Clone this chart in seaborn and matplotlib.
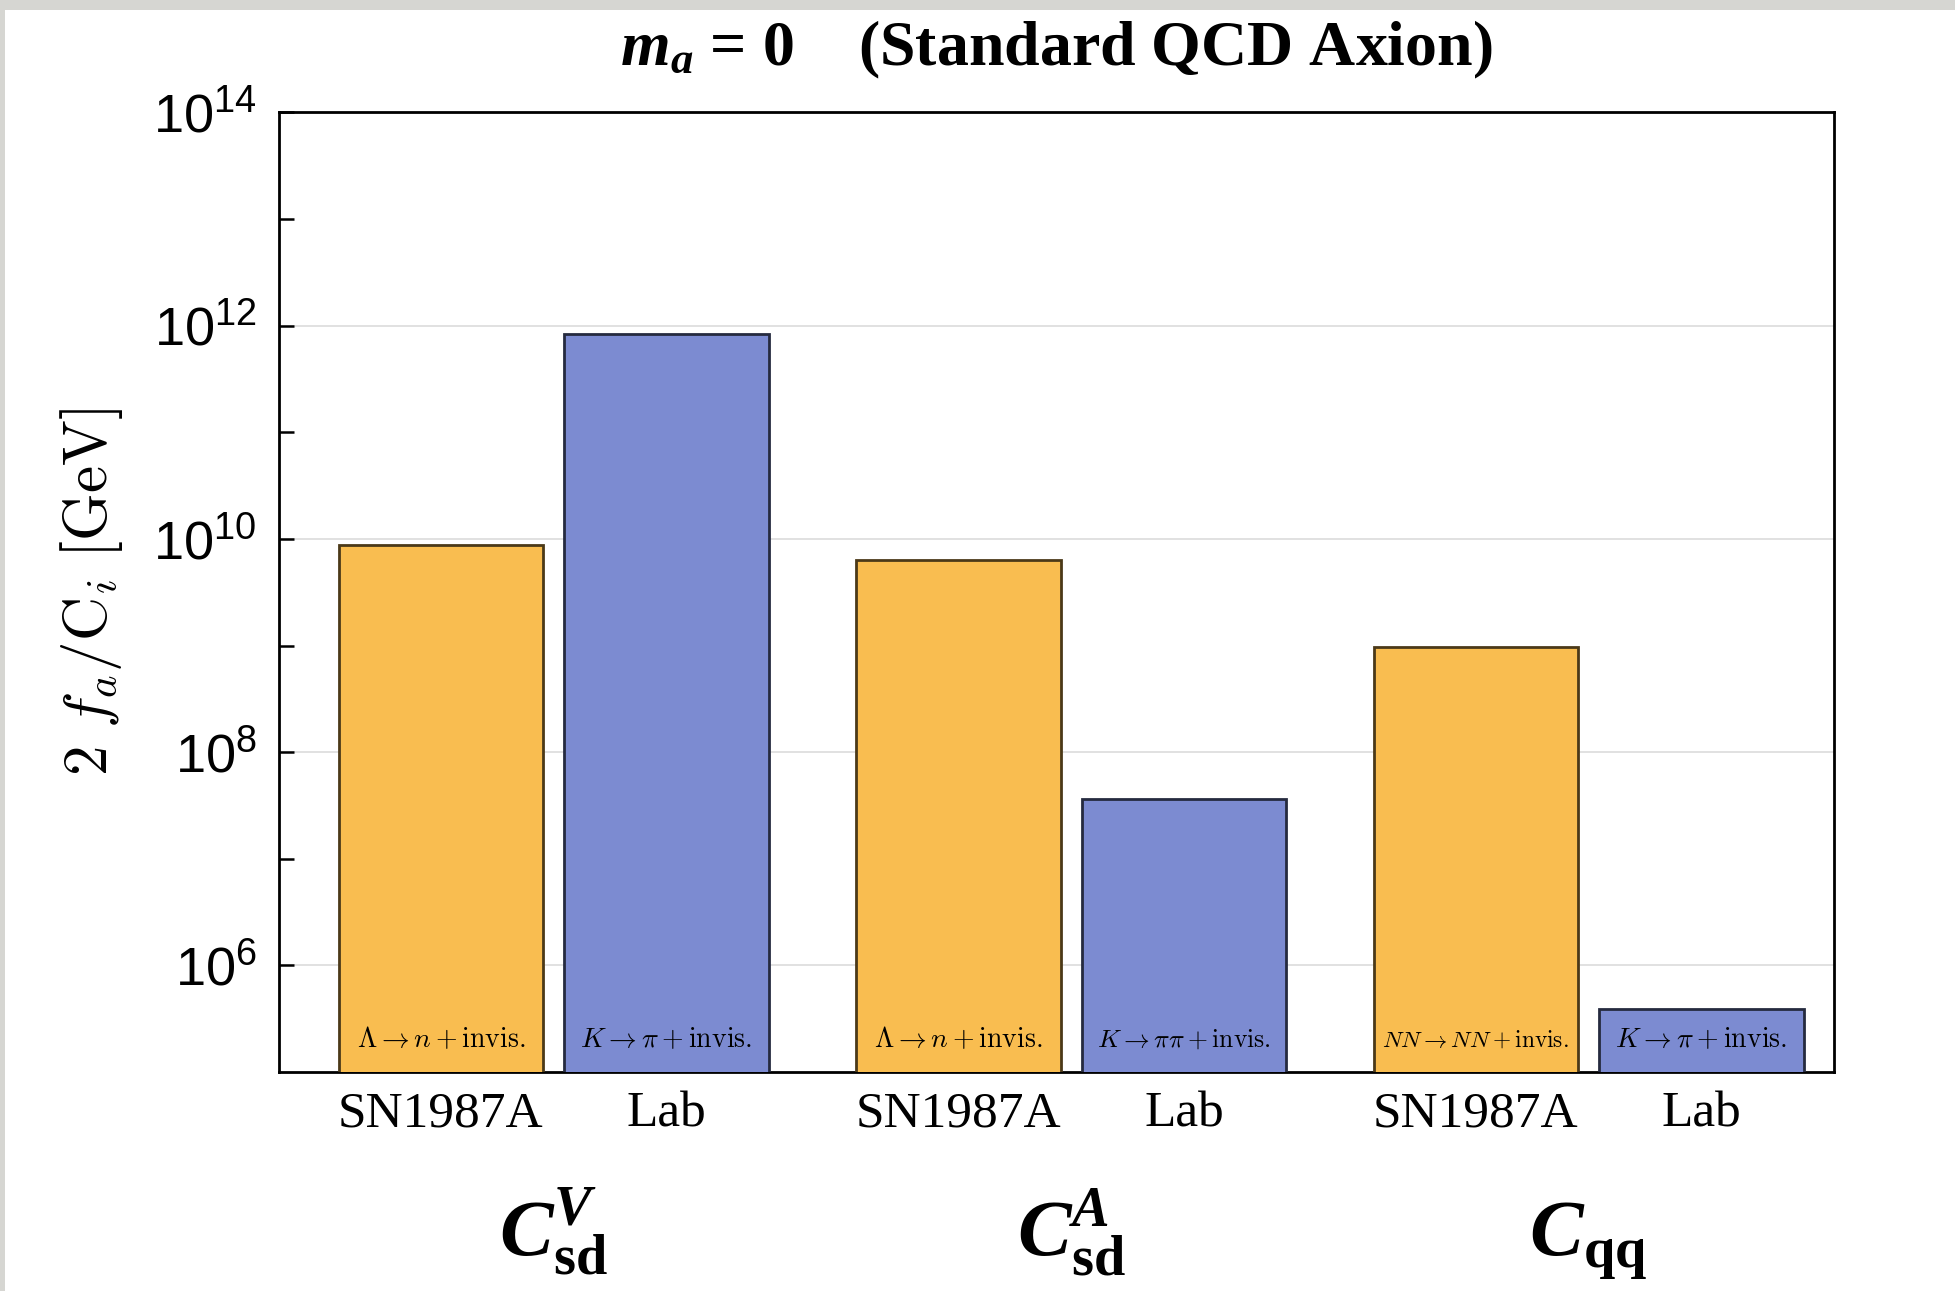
import numpy as np
import pandas as pd
import matplotlib
matplotlib.use("Agg")
import matplotlib.pyplot as plt
import matplotlib.transforms as mtransforms
import matplotlib.patches as mpatches
from matplotlib.ticker import NullFormatter
import seaborn as sns

# ---------------- data ----------------
groups = ["CsdV", "CsdA", "Cqq"]
group_labels = [r"$\mathbfit{C}_{\mathbf{sd}}^{\mathbfit{V}}$",
                r"$\mathbfit{C}_{\mathbf{sd}}^{\mathbfit{A}}$",
                r"$\mathbfit{C}_{\mathbf{qq}}$"]
sources = ["SN1987A", "Lab"]
sn_values = [8.7e9, 6.3e9, 9.6e8]
lab_values = [8.3e11, 3.6e7, 3.9e5]
sn_processes = [r"$\Lambda \rightarrow n + \mathrm{invis.}$",
                r"$\Lambda \rightarrow n + \mathrm{invis.}$",
                r"$NN \rightarrow NN + \mathrm{invis.}$"]
lab_processes = [r"$K \rightarrow \pi + \mathrm{invis.}$",
                 r"$K \rightarrow \pi\pi + \mathrm{invis.}$",
                 r"$K \rightarrow \pi + \mathrm{invis.}$"]
yticks_major = [1e6, 1e8, 1e10, 1e12, 1e14]
yticks_minor = [1e7, 1e9, 1e11, 1e13]

df = pd.DataFrame({
    "group": groups * 2,
    "source": ["SN1987A"] * 3 + ["Lab"] * 3,
    "value": sn_values + lab_values,
    "process": sn_processes + lab_processes,
})

# ---------------- style ----------------
sns.set_theme(style="white")
plt.rcParams["font.family"] = ["Liberation Serif", "DejaVu Serif"]
plt.rcParams["mathtext.fontset"] = "custom"
plt.rcParams["mathtext.rm"] = "Liberation Serif"
plt.rcParams["mathtext.it"] = "Liberation Serif:italic"
plt.rcParams["mathtext.bf"] = "Liberation Serif:bold"
plt.rcParams["mathtext.bfit"] = "Liberation Serif:bold:italic"
for k in ["text.color", "axes.labelcolor", "xtick.color", "ytick.color", "axes.edgecolor"]:
    plt.rcParams[k] = "black"

orange = "#F9BD50"
blue = "#7C8BD1"
palette = {"SN1987A": orange, "Lab": blue}

fig = plt.figure(figsize=(19.55, 12.91), dpi=100)
fig.patch.set_facecolor("white")
# screenshot frame (light grey edge at top and left)
fig.patches.append(mpatches.Rectangle((0, 1 - 10 / 1291), 1, 10 / 1291, transform=fig.transFigure,
                                      facecolor="#d6d6d2", edgecolor="none", zorder=-1))
fig.patches.append(mpatches.Rectangle((0, 0), 5 / 1955, 1, transform=fig.transFigure,
                                      facecolor="#d6d6d2", edgecolor="none", zorder=-1))

ax = fig.add_axes([0.1427, 0.1696, 0.938 - 0.1427, 0.913 - 0.1696])
ax.set_yscale("log", nonpositive="clip")

sns.barplot(data=df, x="group", y="value", hue="source", order=groups, hue_order=sources,
            palette=palette, saturation=1, width=0.872, gap=0.094,
            legend=False, ax=ax, linewidth=2, zorder=3)
ax.set_yscale("log", nonpositive="clip")

ax.set_ylim(1e5, 1e14)
ax.set_xlim(-0.531, 2.474)

# edge colours: darker shade of each bar's face
bars = [p for p in ax.patches if isinstance(p, mpatches.Rectangle)]
centers = []
for p in bars:
    fc = p.get_facecolor()
    p.set_edgecolor(tuple(c * 0.3 for c in fc[:3]) + (1,))
    p.set_linewidth(2)
    centers.append(p.get_x() + p.get_width() / 2)

# labels for each bar
blend = mtransforms.blended_transform_factory(ax.transData, ax.transAxes)
tick_pos, tick_lab = [], []
for p, c in zip(bars, centers):
    gi = int(round(c))
    src = "SN1987A" if c < gi else "Lab"
    row = df[(df.group == groups[gi]) & (df.source == src)].iloc[0]
    if row.process.startswith("$NN"):
        fs = 16.8
    elif r"\pi\pi" in row.process:
        fs = 18.5
    else:
        fs = 20
    ax.text(c, 0.026, row.process, transform=blend, ha="center", va="baseline",
            fontsize=fs, math_fontfamily="cm", zorder=5)
    tick_pos.append(c)
    tick_lab.append(src)

order = np.argsort(tick_pos)
ax.set_xticks([tick_pos[i] for i in order])
ax.set_xticklabels([tick_lab[i] for i in order], fontsize=37, family="Liberation Serif")
ax.set_xlabel("")

for i, gl in enumerate(group_labels):
    ax.text(i, -0.193, gl, transform=blend, ha="center", va="baseline", fontsize=58,
            math_fontfamily="custom")

# y axis
ax.set_yticks(yticks_major)
ax.set_yticks(yticks_minor, minor=True)
ax.yaxis.set_minor_formatter(NullFormatter())
for lab in ax.get_yticklabels():
    lab.set_family("Liberation Sans")
    lab.set_fontsize(39)
ax.tick_params(axis="y", which="both", direction="in", length=11, width=1.8, color="black",
               left=True, right=False, pad=16)
ax.tick_params(axis="x", which="both", direction="in", length=4, width=1.2, color="black",
               bottom=True, top=False, pad=14)
ax.yaxis.grid(True, which="major", color="#dcdcdc", linewidth=1.2, zorder=0)
ax.xaxis.grid(False)
ax.set_axisbelow(True)

for s in ax.spines.values():
    s.set_visible(True)
    s.set_color("black")
    s.set_linewidth(2)

ax.set_ylabel(r"$2\ f_a/\mathrm{C}_i\ \mathrm{[GeV]}$", fontsize=44, math_fontfamily="cm",
              labelpad=20)

ax.set_title(r"$\mathbfit{m}_{\mathbfit{a}}$ = 0    (Standard QCD Axion)", fontsize=46,
             fontweight="bold", family="Liberation Serif", pad=34)

fig.savefig("out.png", dpi=100, facecolor=fig.get_facecolor())
